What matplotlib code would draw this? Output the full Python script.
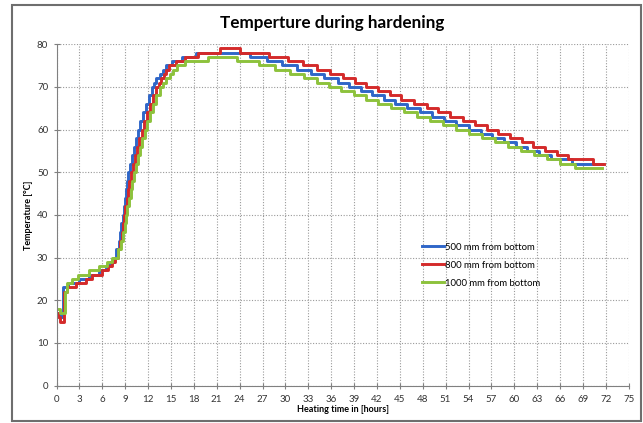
import matplotlib
matplotlib.use("Agg")
import matplotlib.pyplot as plt
from matplotlib.patches import Rectangle

plt.rcParams['font.family'] = ['Lato', 'DejaVu Sans']

# change points of the logged temperature (hour, degC)
blue_t = [0, 0.4, 0.9, 1.5, 3.0, 4.2, 5.6, 6.5, 7.0,
          7.5, 7.85, 8.15, 8.35, 8.5, 8.67, 8.82, 8.97, 9.12, 9.27, 9.42,
          9.65, 9.88, 10.1, 10.4, 10.7, 11.0, 11.35, 11.7, 12.1, 12.5,
          12.8, 13.1, 13.5, 13.9, 14.3, 15.2, 16.5, 18.3,
          25.4, 27.6, 29.5, 31.5, 33.3, 35.1, 36.9, 38.4, 39.9, 41.4,
          42.9, 44.4, 46.0, 47.6, 49.2, 50.8, 52.4, 54.0, 55.6, 57.1,
          58.6, 60.2, 61.7, 63.2, 64.8, 67.5, 71.5]
blue_v = [17, 16, 23, 24, 25, 26, 27, 28, 29,
          30, 32, 34, 36, 38, 40, 42, 44, 46, 48, 50,
          52, 54, 56, 58, 60, 62, 64, 66, 68, 70,
          71, 72, 73, 74, 75, 76, 77, 78,
          77, 76, 75, 74, 73, 72, 71, 70, 69, 68,
          67, 66, 65, 64, 63, 62, 61, 60, 59, 58,
          57, 56, 55, 54, 53, 52, 52]

red_t = [0, 0.2, 0.45, 0.95, 1.4, 2.6, 3.8, 4.7, 6.0, 6.8, 7.3,
         7.7, 8.05, 8.35, 8.55, 8.7, 8.85, 9.02, 9.2, 9.38, 9.55, 9.72,
         10.0, 10.28, 10.55, 10.85, 11.2, 11.5, 11.85, 12.2, 12.6, 13.0,
         13.4, 13.7, 14.1, 14.4, 14.8, 15.6, 16.8, 18.5, 21.4, 24.0,
         27.8, 30.4, 32.3, 34.1, 35.8, 37.6, 39.1, 40.6, 42.2, 43.7,
         45.2, 46.8, 48.5, 50.0, 51.6, 53.3, 54.9, 56.4, 57.9, 59.4,
         61.0, 62.5, 64.0, 65.6, 67.1, 70.3, 71.8]
red_v = [17, 16, 15, 22, 23, 24, 25, 26, 27, 28, 29,
         30, 32, 34, 36, 38, 40, 42, 44, 46, 48, 50,
         52, 54, 56, 58, 60, 62, 64, 66, 68, 70,
         71, 72, 73, 74, 75, 76, 77, 78, 79, 78,
         77, 76, 75, 74, 73, 72, 71, 70, 69, 68,
         67, 66, 65, 64, 63, 62, 61, 60, 59, 58,
         57, 56, 55, 54, 53, 52, 52]

green_t = [0, 0.4, 1.05, 1.4, 2.0, 2.8, 4.3, 5.6, 6.6,
           7.3, 8.1, 8.45, 8.75, 8.95, 9.12, 9.3, 9.5, 9.7, 9.9, 10.1,
           10.38, 10.65, 10.95, 11.25, 11.55, 11.9, 12.25, 12.6, 13.1, 13.6,
           14.0, 14.4, 14.9, 15.3, 15.8, 16.8, 19.9, 23.6, 26.5, 28.6,
           30.6, 32.4, 34.2, 35.7, 37.3, 39.0, 40.6, 42.2, 43.9, 45.6,
           47.3, 49.0, 50.7, 52.4, 54.1, 55.8, 57.5, 59.2, 60.9, 62.6,
           64.3, 66.0, 68.0, 71.5]
green_v = [18, 17, 22, 24, 25, 26, 27, 28, 29,
           30, 32, 34, 36, 38, 40, 42, 44, 46, 48, 50,
           52, 54, 56, 58, 60, 62, 64, 66, 68, 70,
           71, 72, 73, 74, 75, 76, 77, 76, 75, 74,
           73, 72, 71, 70, 69, 68, 67, 66, 65, 64,
           63, 62, 61, 60, 59, 58, 57, 56, 55, 54,
           53, 52, 51, 51]

labels = ['500 mm from bottom', '800 mm from bottom', '1000 mm from bottom']
colors = ['#2F66C8', '#D42A2A', '#8DC23C']
x_ticks = list(range(0, 76, 3))
y_ticks = list(range(0, 81, 10))

fig = plt.figure(figsize=(6.43, 4.23), dpi=100)
ax = fig.add_axes([0.0879, 0.0882, 0.8899, 0.8075])

for t, v, c, lab in zip([blue_t, red_t, green_t], [blue_v, red_v, green_v], colors, labels):
    assert len(t) == len(v)
    ax.step(t, v, where='post', color=c, lw=2.1, label=lab)

ax.set_xlim(0, 75)
ax.set_ylim(0, 80)
ax.set_xticks(x_ticks)
ax.set_yticks(y_ticks)
ax.grid(True, color='#9a9a9a', linestyle=(0, (1, 1.5)), linewidth=0.8)
for s in ['top', 'right']:
    ax.spines[s].set_visible(False)
for s in ['left', 'bottom']:
    ax.spines[s].set_color('#808080')
ax.tick_params(axis='both', direction='inout', length=5, color='#808080',
               labelsize=7, labelcolor='#333333')
ax.tick_params(axis='x', pad=4)

ax.set_xlabel('Heating time in [hours]', fontsize=6.5, fontweight='bold', labelpad=1)
ax.set_ylabel('Temperature [°C]', fontsize=6.5, fontweight='bold', labelpad=3)
fig.text(0.516, 0.945, 'Temperture during hardening', ha='center', va='center',
         fontsize=12.3, fontweight='bold')

ax.legend(loc='upper left', bbox_to_anchor=(0.632, 0.43), frameon=False,
          fontsize=6.8, handlelength=2.3, handletextpad=0.1, labelspacing=0.95,
          borderaxespad=0)

fig.patches.append(Rectangle((12 / 643, 2 / 423), 629 / 643, 416 / 423,
                             transform=fig.transFigure, fill=False,
                             edgecolor='#6e6e6e', lw=1.5))

fig.savefig('out.png', dpi=100, facecolor='white')
